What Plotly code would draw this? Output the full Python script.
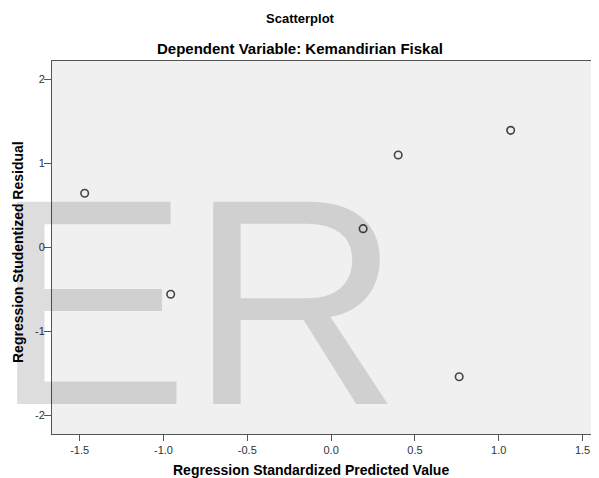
import plotly.graph_objects as go

# Data
predicted = [-1.470, -0.957, 0.191, 0.400, 0.764, 1.071]
residual = [0.645, -0.557, 0.224, 1.100, -1.537, 1.394]

x_tick_vals = [-1.5, -1.0, -0.5, 0.0, 0.5, 1.0, 1.5]
x_tick_text = ["-1.5", "-1.0", "-0.5", "0.0", "0.5", "1.0", "1.5"]
y_tick_vals = [-2, -1, 0, 1, 2]
y_tick_text = ["-2", "-1", "0", "1", "2"]

title_text = "Scatterplot"
subtitle_text = "Dependent Variable: Kemandirian Fiskal"
x_title = "Regression Standardized Predicted Value"
y_title = "Regression Studentized Residual"
watermark = "ER"

# The page body has an 8px default margin, so the figure is drawn 8px smaller
OFF = 8
W, H = 599 - OFF, 478 - OFF
ML, MR, MT, MB = 52 - OFF, 0, 61 - OFF, 478 - 434
PW, PH = W - ML - MR, H - MT - MB

FONT = "Liberation Sans, Arial, sans-serif"
AXIS_COLOR = "#555555"

fig = go.Figure()
fig.add_trace(go.Scatter(
    x=predicted, y=residual, mode="markers",
    marker=dict(symbol="circle-open", size=7.5, color="#444444",
                line=dict(width=1.6, color="#444444")),
    hoverinfo="x+y", showlegend=False,
))

def px_x(p):
    return (p - OFF - ML) / PW

def px_y(p):
    return (H - MB - (p - OFF)) / PH

annotations = [
    dict(text=watermark, x=px_x(-9), y=px_y(301.5), xref="paper", yref="paper",
         xanchor="left", yanchor="middle", showarrow=False,
         font=dict(family=FONT, size=294, color="rgba(0,0,0,0.133)")),
    dict(text="<b>%s</b>" % title_text, x=px_x(300), y=px_y(19), xref="paper", yref="paper",
         xanchor="center", yanchor="middle", showarrow=False,
         font=dict(family=FONT, size=13, color="#000000")),
    dict(text="<b>%s</b>" % subtitle_text, x=px_x(300), y=px_y(49), xref="paper", yref="paper",
         xanchor="center", yanchor="middle", showarrow=False,
         font=dict(family=FONT, size=15, color="#000000")),
    dict(text="<b>%s</b>" % x_title, x=px_x(311), y=px_y(470), xref="paper", yref="paper",
         xanchor="center", yanchor="middle", showarrow=False,
         font=dict(family=FONT, size=14, color="#000000")),
    dict(text="<b>%s</b>" % y_title, x=px_x(18), y=px_y(252), xref="paper", yref="paper",
         xanchor="center", yanchor="middle", showarrow=False, textangle=-90,
         font=dict(family=FONT, size=14, color="#000000")),
]

fig.update_layout(
    width=W, height=H,
    margin=dict(l=ML, r=MR, t=MT, b=MB, pad=0),
    paper_bgcolor="#ffffff",
    plot_bgcolor="#f0f0f0",
    font=dict(family=FONT, size=11, color="#333333"),
    annotations=annotations,
    xaxis=dict(
        range=[-1.665, 1.598], tickmode="array",
        tickvals=x_tick_vals, ticktext=x_tick_text,
        showgrid=False, zeroline=False,
        showline=True, linecolor=AXIS_COLOR, linewidth=1, mirror=True,
        ticks="outside", ticklen=6, tickcolor=AXIS_COLOR, tickwidth=1,
        tickfont=dict(family=FONT, size=11, color="#333333"),
    ),
    yaxis=dict(
        range=[-2.219, 2.219], tickmode="array",
        tickvals=y_tick_vals, ticktext=y_tick_text,
        showgrid=False, zeroline=False,
        showline=True, linecolor=AXIS_COLOR, linewidth=1,
        ticks="outside", ticklen=7, tickcolor=AXIS_COLOR, tickwidth=1,
        ticklabelstandoff=-3,
        tickfont=dict(family=FONT, size=11, color="#333333"),
    ),
)

fig.write_html("out.html")
